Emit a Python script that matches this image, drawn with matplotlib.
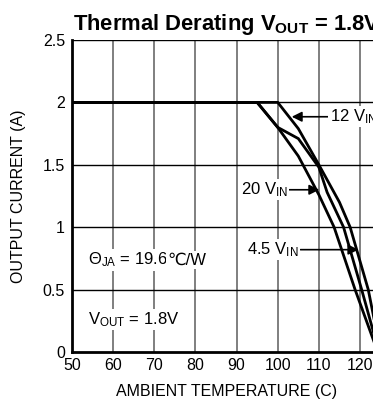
import matplotlib
matplotlib.use("Agg")
import matplotlib.pyplot as plt

plt.rcParams['font.family'] = ['Liberation Sans', 'DejaVu Sans']
plt.rcParams['mathtext.fontset'] = 'custom'
plt.rcParams['mathtext.rm'] = 'Liberation Sans'
plt.rcParams['mathtext.it'] = 'Liberation Sans:italic'
plt.rcParams['mathtext.bf'] = 'Liberation Sans:bold'

# Data
t_12v = [50, 100, 105, 110, 115, 117.6, 122, 125]
i_12v = [2.0, 2.0, 1.79, 1.50, 1.20, 1.0, 0.5, 0.0]
t_45v = [50, 95, 100, 105, 110, 112, 116, 120.4, 124.6]
i_45v = [2.0, 2.0, 1.80, 1.71, 1.48, 1.28, 1.0, 0.5, 0.0]
t_20v = [50, 95, 100, 105, 110, 113.7, 118.8, 124.3]
i_20v = [2.0, 2.0, 1.80, 1.57, 1.26, 1.0, 0.5, 0.0]

x_ticks = [50, 60, 70, 80, 90, 100, 110, 120]
y_ticks = [0, 0.5, 1, 1.5, 2, 2.5]
y_tick_labels = ['0', '0.5', '1', '1.5', '2', '2.5']

W, H = 373, 407
fig = plt.figure(figsize=(W / 100, H / 100), dpi=100)
left_px, right_px = 72, 380.6
bot_px, top_px = 352, 40
ax = fig.add_axes([left_px / W, (H - bot_px) / H, (right_px - left_px) / W, (bot_px - top_px) / H])

ax.set_xlim(50, 125)
ax.set_ylim(0, 2.5)
ax.set_xticks(x_ticks)
ax.set_yticks(y_ticks)
ax.set_yticklabels(y_tick_labels)
ax.tick_params(length=0, labelsize=11.5, pad=4)
ax.tick_params(axis='y', pad=5)

for x in x_ticks[1:]:
    ax.axvline(x, color='#6a6a6a', lw=1.2, zorder=1)
for y in y_ticks[1:-1]:
    ax.axhline(y, color='black', lw=1.0, zorder=1)
ax.axhline(2.5, color='black', lw=1.0, zorder=1)

for s in ['top', 'right']:
    ax.spines[s].set_visible(False)
for s in ['left', 'bottom']:
    ax.spines[s].set_linewidth(2.0)
    ax.spines[s].set_zorder(5)

for t, i in [(t_12v, i_12v), (t_45v, i_45v), (t_20v, i_20v)]:
    ax.plot(t, i, color='black', lw=2.0, zorder=3, solid_joinstyle='miter')

ax.set_title(r'Thermal Derating V$_{\mathbf{OUT}}$ = 1.8V', fontsize=15.8,
             fontweight='bold', pad=7)
ax.set_xlabel('AMBIENT TEMPERATURE (C)', fontsize=11.5, labelpad=8)
ax.set_ylabel('OUTPUT CURRENT (A)', fontsize=11.5, labelpad=12)

bbox = dict(facecolor='white', edgecolor='none', pad=1.0)
arrowprops = dict(arrowstyle='-|>', color='black', lw=1.2, mutation_scale=15, shrinkA=0, shrinkB=0)

ax.annotate(r'12 V$_{\mathrm{IN}}$', xy=(103.4, 1.885), xytext=(112.6, 1.885),
            fontsize=12, va='center', ha='left', arrowprops=arrowprops, bbox=bbox, zorder=4)
ax.annotate(r'20 V$_{\mathrm{IN}}$', xy=(110.1, 1.30), xytext=(102.5, 1.30),
            fontsize=12, va='center', ha='right', arrowprops=arrowprops, bbox=bbox, zorder=4)
ax.annotate(r'4.5 V$_{\mathrm{IN}}$', xy=(119.6, 0.82), xytext=(105.2, 0.82),
            fontsize=12, va='center', ha='right', arrowprops=arrowprops, bbox=bbox, zorder=4)

t1 = ax.text(53.9, 0.70, 'Θ$_{\\mathrm{JA}}$ = 19.6', fontsize=12, va='baseline', ha='left',
             bbox=bbox, zorder=4)
ax.annotate('℃/W', xy=(1, 0.70), xycoords=(t1, 'data'), fontsize=12, va='baseline',
            ha='left', family=['Liberation Sans', 'DejaVu Sans'], bbox=bbox, zorder=4)
ax.text(54.0, 0.26, r'V$_{\mathrm{OUT}}$ = 1.8V', fontsize=12, va='center', ha='left',
        bbox=bbox, zorder=4)

fig.savefig('out.png', dpi=100)
